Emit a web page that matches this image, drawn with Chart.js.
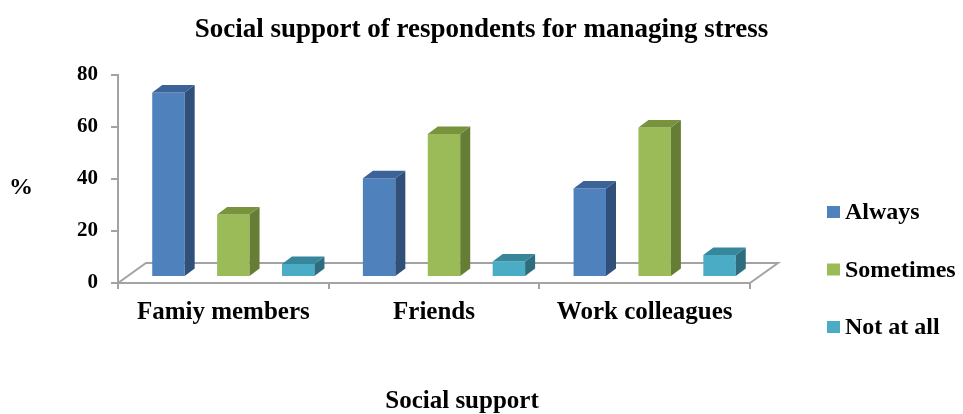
<!DOCTYPE html>
<html>
<head>
<meta charset="utf-8">
<script src="https://cdn.jsdelivr.net/npm/chart.js@4.4.1/dist/chart.umd.min.js"></script>
<style>
  html, body { margin: 0; padding: 0; background: #fff; }
  #wrap { width: 963px; height: 414px; }
</style>
</head>
<body>
<div id="wrap"><canvas id="chart" width="963" height="414"></canvas></div>
<script>
// chart data
const categories = ['Famiy members', 'Friends', 'Work colleagues'];
const seriesNames = ['Always', 'Sometimes', 'Not at all'];
const always = [71, 38, 34];
const sometimes = [24, 55, 57.5];
const notAtAll = [5, 6, 8.5];
const yTicks = [0, 20, 40, 60, 80];

const chartTitle = 'Social support of respondents for managing stress';
const xTitle = 'Social support';
const yTitle = '%';

// front / side / top colours per series
const colFront = ['#4F81BD', '#9BBB59', '#4BACC6'];
const colSide = ['#30507A', '#667D36', '#2D6D7E'];
const colTop = ['#3B6398', '#77933C', '#36879C'];

const serif = "'Liberation Serif', 'Times New Roman', serif";
const axisGray = '#a3a3a3';

// floor depth and bar depth (pseudo 3d)
const floorDX = 28, floorDY = -20;
const barShiftX = 10, barShiftY = -6;
const barDX = 10, barDY = -7.5;

const threeD = {
    id: 'threeD',
    beforeDatasetsDraw(chart) {
        const ctx = chart.ctx;
        const a = chart.chartArea;
        ctx.save();
        ctx.strokeStyle = axisGray;
        ctx.lineWidth = 2;
        ctx.beginPath();
        ctx.moveTo(a.left, a.bottom);
        ctx.lineTo(a.left + floorDX, a.bottom + floorDY);
        ctx.lineTo(a.right + floorDX, a.bottom + floorDY);
        ctx.lineTo(a.right, a.bottom);
        ctx.stroke();
        ctx.restore();
        ctx.save();
        ctx.translate(barShiftX, barShiftY);
    },
    afterDatasetsDraw(chart) {
        const ctx = chart.ctx;
        chart.data.datasets.forEach(function (ds, i) {
            const meta = chart.getDatasetMeta(i);
            meta.data.forEach(function (bar) {
                const p = bar.getProps(['x', 'y', 'base', 'width'], true);
                const l = p.x - p.width / 2, r = p.x + p.width / 2;
                // side
                ctx.fillStyle = colSide[i];
                ctx.beginPath();
                ctx.moveTo(r, p.y);
                ctx.lineTo(r + barDX, p.y + barDY);
                ctx.lineTo(r + barDX, p.base + barDY);
                ctx.lineTo(r, p.base);
                ctx.closePath();
                ctx.fill();
                // top
                ctx.fillStyle = colTop[i];
                ctx.beginPath();
                ctx.moveTo(l, p.y);
                ctx.lineTo(l + barDX, p.y + barDY);
                ctx.lineTo(r + barDX, p.y + barDY);
                ctx.lineTo(r, p.y);
                ctx.closePath();
                ctx.fill();
            });
        });
        ctx.restore();
    },
    afterDraw(chart) {
        const ctx = chart.ctx;
        const a = chart.chartArea;
        ctx.save();
        ctx.fillStyle = '#000';
        ctx.textBaseline = 'middle';
        ctx.textAlign = 'center';
        ctx.font = 'bold 24px ' + serif;
        ctx.fillText(yTitle, 21, (a.top + a.bottom) / 2 + 9);
        ctx.font = 'bold 25px ' + serif;
        ctx.fillText(xTitle, 462, 402);

        // legend
        ctx.textAlign = 'left';
        ctx.font = 'bold 24px ' + serif;
        chart.data.datasets.forEach(function (ds, i) {
            const y = 212 + i * 57.5;
            ctx.fillStyle = ds.backgroundColor;
            ctx.fillRect(827, y - 6, 13, 12);
            ctx.fillStyle = '#000';
            ctx.fillText(ds.label, 845, y + 1);
        });
        ctx.restore();
    }
};

const seriesData = [always, sometimes, notAtAll];

new Chart(document.getElementById('chart'), {
    type: 'bar',
    data: {
        labels: categories,
        datasets: seriesNames.map(function (name, i) {
            return {
                label: name,
                data: seriesData[i],
                backgroundColor: colFront[i],
                borderWidth: 0,
                clip: false,
                categoryPercentage: 0.924,
                barPercentage: 0.5
            };
        })
    },
    options: {
        responsive: false,
        animation: false,
        events: [],
        layout: { padding: 0 },
        plugins: {
            legend: { display: false },
            tooltip: { enabled: false },
            title: {
                display: true,
                text: chartTitle,
                color: '#000',
                font: { family: serif, size: 27, weight: 'bold', lineHeight: 1.2 },
                padding: { top: 14, bottom: 28.6 }
            }
        },
        scales: {
            x: {
                grid: {
                    offset: true,
                    drawOnChartArea: false,
                    drawTicks: true,
                    tickLength: 6,
                    color: axisGray,
                    lineWidth: 2
                },
                border: { display: true, color: axisGray, width: 2 },
                ticks: {
                    color: '#000',
                    padding: 9,
                    maxRotation: 0,
                    font: { family: serif, size: 25, weight: 'bold' }
                },
                afterFit: function (s) { s.height = 131; }
            },
            y: {
                min: 0,
                max: 80,
                afterBuildTicks: function (s) { s.ticks = yTicks.map(v => ({ value: v })); },
                grid: {
                    drawOnChartArea: false,
                    drawTicks: true,
                    tickLength: 7,
                    color: axisGray,
                    lineWidth: 2
                },
                border: { display: true, color: axisGray, width: 2 },
                ticks: {
                    color: '#000',
                    padding: 13,
                    font: { family: serif, size: 21, weight: 'bold' }
                },
                afterFit: function (s) { s.width = 118; }
            },
            yR: {
                position: 'right',
                display: true,
                grid: { display: false },
                border: { display: false },
                ticks: { display: false },
                afterFit: function (s) { s.width = 213; }
            }
        }
    },
    plugins: [threeD]
});
</script>
</body>
</html>
